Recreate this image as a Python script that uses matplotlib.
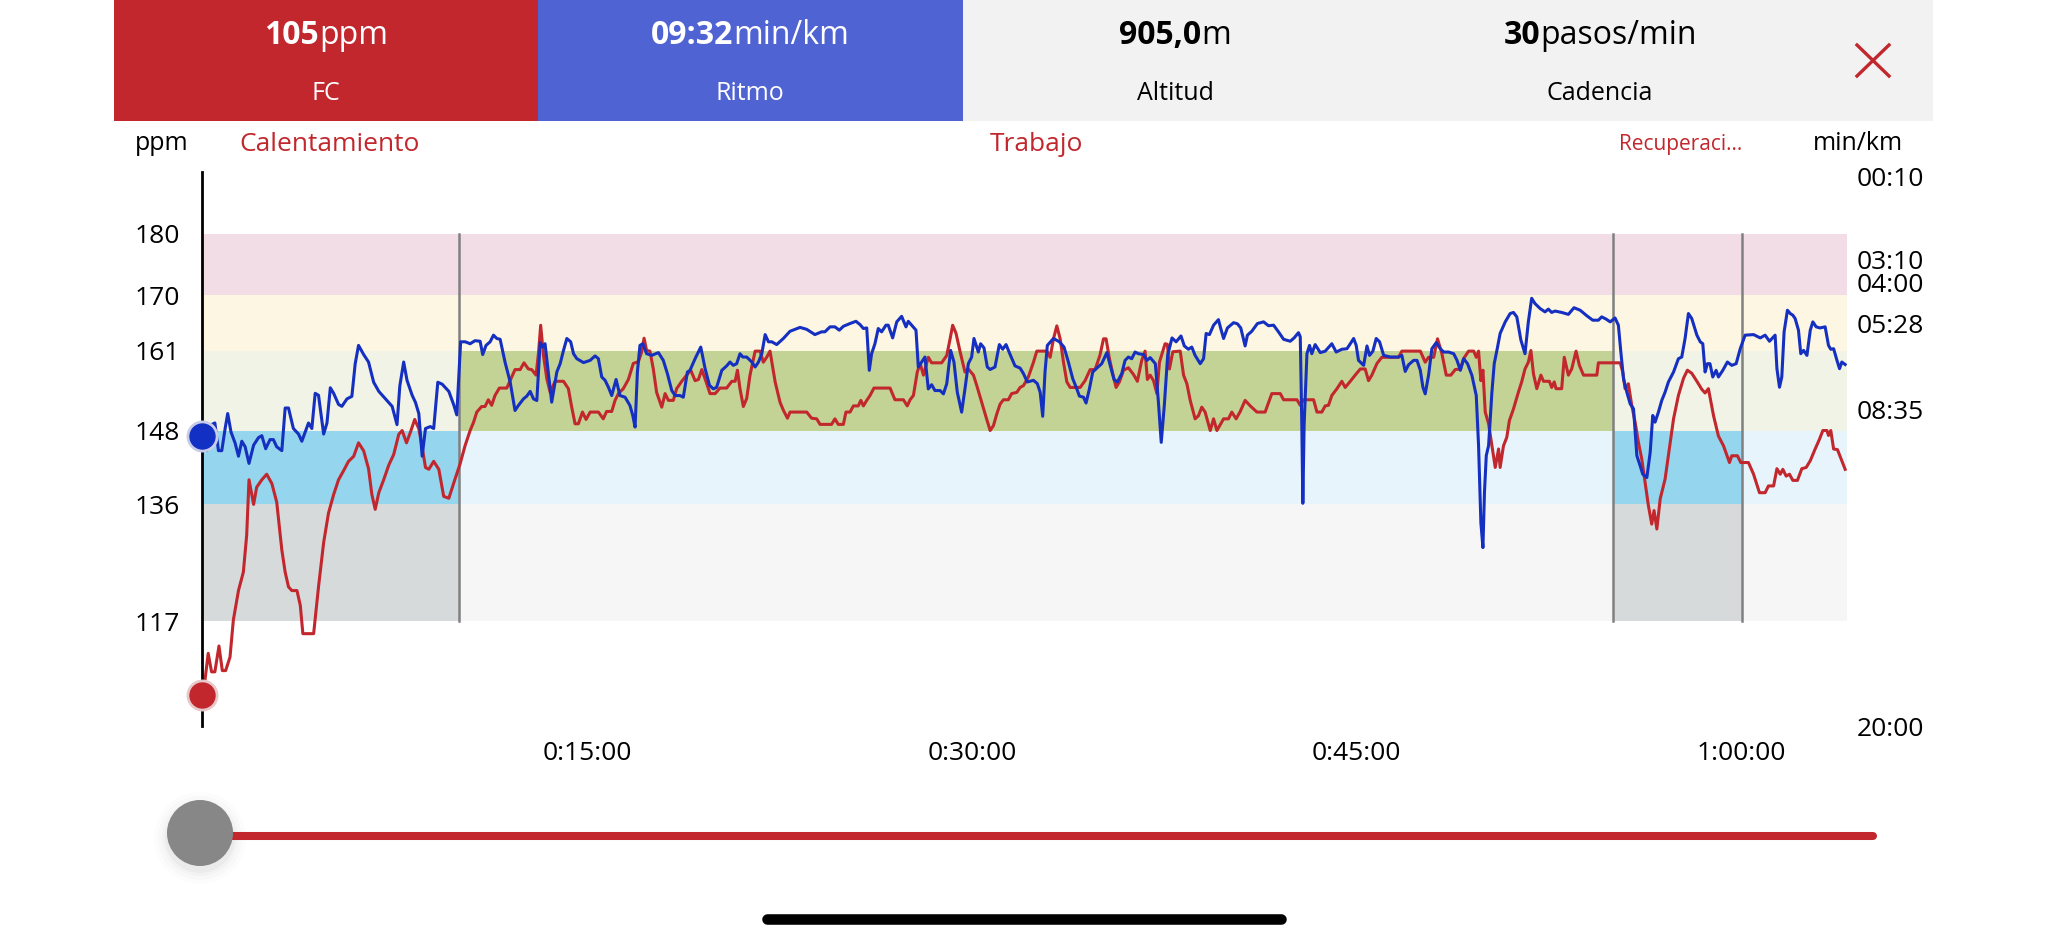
import numpy as np
import matplotlib
matplotlib.use('Agg')
import matplotlib.pyplot as plt
from matplotlib.patches import Rectangle, Circle

plt.rcParams['font.family'] = ['Open Sans', 'DejaVu Sans']

# ---- data ----
# heart rate: (minute, ppm)
hr_samples = [
    (0, 105), (0.1, 107.3), (0.23, 111.8), (0.36, 108.8), (0.49, 108.8), (0.65, 113), (0.78, 109), (0.91, 109),
    (1.08, 111.2), (1.21, 117.2), (1.41, 122), (1.6, 125), (1.73, 131), (1.82, 140), (2.0, 136), (2.12, 138.8),
    (2.32, 140), (2.51, 140.9), (2.71, 139.4), (2.9, 136.4), (3.1, 128.6), (3.23, 125), (3.36, 122.6), (3.49, 122),
    (3.69, 122), (3.82, 119.6), (3.92, 115), (4.08, 115), (4.34, 115), (4.53, 122.6), (4.73, 129.8), (4.92, 134.6),
    (5.12, 137.6), (5.31, 140), (5.51, 141.5), (5.7, 143), (5.9, 143.8), (6.09, 146), (6.29, 144.7), (6.48, 141.8),
    (6.61, 137.6), (6.74, 135.2), (6.88, 137.9), (7.07, 140), (7.27, 142.4), (7.46, 144.1), (7.66, 147.4), (7.79, 148),
    (7.96, 146), (8.11, 147.7), (8.28, 149.8), (8.44, 148.3), (8.57, 145.3), (8.7, 142), (8.83, 141.7), (9.02, 143),
    (9.22, 141.7), (9.41, 137.3), (9.61, 137), (9.85, 140.1), (10.05, 142.6), (10.24, 145.5), (10.44, 148),
    (10.57, 149.3), (10.7, 151), (10.89, 151.9), (11.02, 151.9), (11.15, 153), (11.28, 152.1), (11.41, 153.7),
    (11.58, 154.9), (11.87, 154.9), (12.06, 156.7), (12.19, 157.9), (12.39, 157.9), (12.54, 159), (12.71, 158),
    (12.84, 157.9), (13.01, 157), (13.11, 160.8), (13.19, 165.1), (13.3, 160.2), (13.43, 156.4), (13.56, 154.2),
    (13.75, 156), (14.08, 156), (14.27, 154.8), (14.4, 151.8), (14.53, 149.1), (14.66, 149.1), (14.82, 151),
    (14.96, 149.8), (15.12, 151), (15.44, 151), (15.63, 149.9), (15.76, 151.1), (15.96, 151.1), (16.09, 152.9),
    (16.22, 154), (16.41, 154.8), (16.61, 156.3), (16.8, 158.9), (17.0, 159.2), (17.13, 160.8), (17.22, 163),
    (17.32, 161), (17.45, 160.9), (17.58, 158), (17.71, 154.2), (17.91, 151.8), (18.04, 154), (18.17, 152.9),
    (18.36, 152.9), (18.49, 154.8), (18.69, 156), (18.88, 157), (19.04, 157.8), (19.21, 156.1), (19.34, 156.3),
    (19.47, 157.9), (19.64, 155.9), (19.79, 154), (19.99, 154), (20.18, 154.9), (20.44, 154.9), (20.64, 156),
    (20.77, 156), (20.86, 157.8), (20.96, 154.8), (21.09, 151.9), (21.22, 153.2), (21.35, 157), (21.55, 160.9),
    (21.74, 160.9), (21.87, 159.1), (22.0, 159.9), (22.13, 160.9), (22.33, 155.9), (22.52, 152.6), (22.65, 151.3),
    (22.81, 150), (22.91, 151), (23.3, 151), (23.56, 151), (23.75, 150), (23.95, 149.9), (24.08, 149), (24.53, 149),
    (24.66, 149.9), (24.79, 149), (24.99, 149), (25.09, 151), (25.25, 151), (25.38, 152), (25.57, 152),
    (25.67, 152.9), (25.77, 152), (25.9, 152.9), (26.03, 153.7), (26.18, 154.9), (26.81, 154.9), (27.0, 153),
    (27.33, 153), (27.48, 152), (27.59, 153), (27.72, 153.7), (27.87, 157.5), (27.98, 158.9), (28.11, 157),
    (28.3, 159.9), (28.43, 159), (28.82, 159), (29.02, 160.2), (29.15, 162.9), (29.25, 165.1), (29.38, 163.8),
    (29.54, 160.8), (29.73, 157.5), (29.86, 158), (30.06, 157), (30.19, 155.3), (30.38, 152.6), (30.55, 150.2),
    (30.71, 148), (30.84, 148.8), (30.97, 150.7), (31.1, 152.3), (31.23, 153), (31.42, 153), (31.55, 154),
    (31.75, 154.2), (31.88, 155), (32.01, 155.3), (32.2, 156.7), (32.4, 159.1), (32.53, 160.9), (32.92, 160.9),
    (33.05, 159.9), (33.18, 162.9), (33.31, 165), (33.44, 162.9), (33.57, 159.1), (33.7, 155.9), (33.83, 155),
    (34.22, 155), (34.41, 156.1), (34.61, 157.9), (34.8, 157.9), (34.99, 160.2), (35.13, 162.9), (35.23, 162.9),
    (35.36, 159.7), (35.52, 156.7), (35.62, 155), (35.75, 155.9), (35.91, 157.8), (36.1, 158.2), (36.3, 157.1),
    (36.45, 156), (36.62, 159.4), (36.75, 160.9), (36.84, 156.3), (36.95, 157), (37.08, 156.1), (37.21, 154),
    (37.31, 159.1), (37.53, 162.1), (37.62, 162), (37.7, 158), (37.83, 160.8), (38.12, 160.9), (38.25, 157),
    (38.38, 155.6), (38.51, 152.9), (38.7, 149.9), (38.83, 150.4), (38.96, 151.8), (39.09, 151), (39.29, 148),
    (39.42, 149.9), (39.55, 148), (39.81, 149.9), (40.0, 149.9), (40.13, 151), (40.3, 149.9), (40.46, 151.1),
    (40.65, 152.9), (40.85, 152), (41.11, 151), (41.43, 151), (41.69, 154), (42.02, 154), (42.15, 153),
    (42.67, 153), (42.8, 152.1), (42.93, 153), (43.32, 153), (43.45, 151), (43.64, 151), (43.77, 152),
    (43.9, 152.1), (44.03, 153.7), (44.23, 154.8), (44.42, 156), (44.55, 155), (44.75, 156), (44.94, 157),
    (45.14, 158), (45.33, 158), (45.46, 156.1), (45.59, 157), (45.79, 158.9), (45.98, 159.9), (46.63, 159.9),
    (46.76, 160.9), (47.48, 160.9), (47.67, 159.1), (47.8, 159.9), (48.0, 159.9), (48.15, 162.9), (48.32, 160.5),
    (48.49, 157), (48.67, 157), (48.84, 157.9), (49.04, 158), (49.17, 159.7), (49.36, 160.9), (49.56, 160.9),
    (49.66, 159.9), (49.75, 160.9), (49.84, 156.1), (49.92, 157.8), (50.01, 151), (50.14, 149.1), (50.27, 145.5),
    (50.4, 142), (50.53, 145), (50.59, 142), (50.72, 145.5), (50.85, 146.9), (50.95, 149.6), (51.11, 151.5),
    (51.3, 154.2), (51.43, 155.9), (51.56, 158), (51.69, 159.1), (51.79, 161), (51.89, 157.2), (52.02, 154.8),
    (52.18, 157), (52.28, 156), (52.51, 156), (52.6, 155), (52.7, 155.9), (52.77, 154.8), (52.99, 154.8),
    (53.09, 159.9), (53.25, 157), (53.38, 158), (53.55, 160.9), (53.68, 158.6), (53.84, 157), (54.36, 157),
    (54.42, 159), (55.27, 159), (55.37, 157.5), (55.46, 154.8), (55.59, 155.6), (55.72, 152.1), (55.85, 149.4),
    (55.98, 146.1), (56.11, 143.4), (56.24, 139.6), (56.37, 135.8), (56.5, 132.8), (56.59, 135), (56.7, 132),
    (56.83, 136.9), (57.02, 140.1), (57.22, 146.1), (57.35, 149.9), (57.54, 153.7), (57.74, 156.5), (57.89, 157.8),
    (58.06, 157.3), (58.26, 156), (58.45, 154.7), (58.58, 154.1), (58.71, 154.8), (58.91, 150.4), (59.1, 147.1),
    (59.3, 145.5), (59.53, 142.8), (59.62, 143.9), (59.84, 143.9), (59.97, 142.8), (60.27, 142.8), (60.47, 140.9),
    (60.7, 137.9), (60.92, 137.9), (61.05, 139), (61.25, 139), (61.38, 141.8), (61.51, 140.9), (61.61, 141.7),
    (61.74, 140.6), (61.87, 140.9), (62.0, 139.9), (62.18, 139.9), (62.35, 141.8), (62.52, 142), (62.68, 143.1),
    (62.87, 145), (63.04, 146.6), (63.17, 148), (63.33, 148), (63.39, 147.2), (63.48, 148), (63.59, 145),
    (63.74, 144.9), (64.04, 141.7),
]

# pace: (minute, min/km)
pace_samples = [
    (0, 9.53), (0.17, 10.06), (0.23, 9.59), (0.36, 9.12), (0.49, 9.06), (0.63, 10.06), (0.76, 10.06), (0.89, 9.26),
    (0.99, 8.72), (1.12, 9.39), (1.28, 9.79), (1.41, 10.26), (1.54, 9.72), (1.67, 9.92), (1.82, 10.52), (2.0, 9.86),
    (2.19, 9.59), (2.32, 9.52), (2.47, 9.99), (2.64, 9.66), (2.77, 9.66), (2.9, 9.92), (3.1, 10.06), (3.23, 8.52),
    (3.36, 8.52), (3.55, 9.26), (3.75, 9.46), (3.88, 9.72), (4.01, 9.39), (4.14, 9.06), (4.27, 9.26), (4.4, 7.99),
    (4.53, 8.06), (4.73, 9.46), (4.86, 9.06), (4.99, 7.79), (5.12, 7.99), (5.31, 8.39), (5.44, 8.46), (5.64, 8.19),
    (5.83, 8.1), (5.96, 6.92), (6.09, 6.26), (6.29, 6.59), (6.48, 6.86), (6.68, 7.59), (6.88, 7.92), (7.14, 8.19),
    (7.4, 8.46), (7.59, 9.12), (7.7, 7.72), (7.85, 6.86), (7.98, 7.52), (8.18, 8.06), (8.31, 8.32), (8.44, 8.72),
    (8.57, 10.26), (8.7, 9.26), (8.89, 9.19), (9.02, 9.26), (9.18, 7.59), (9.35, 7.66), (9.61, 7.92), (9.81, 8.43),
    (9.92, 8.77), (10.07, 6.13), (10.25, 6.13), (10.44, 6.2), (10.63, 6.09), (10.83, 6.11), (10.93, 6.59),
    (11.06, 6.26), (11.22, 6.13), (11.35, 5.89), (11.48, 6.01), (11.61, 6.04), (11.8, 6.86), (12.0, 7.58),
    (12.19, 8.61), (12.32, 8.43), (12.52, 8.19), (12.65, 8.09), (12.78, 7.92), (12.91, 8.19), (13.04, 8.25),
    (13.17, 6.16), (13.27, 6.32), (13.36, 6.2), (13.45, 6.92), (13.62, 8.31), (13.82, 7.22), (13.95, 6.92),
    (14.08, 6.44), (14.21, 6.01), (14.36, 6.13), (14.47, 6.56), (14.6, 6.74), (14.86, 6.88), (15.12, 6.8),
    (15.31, 6.64), (15.44, 6.74), (15.57, 7.4), (15.7, 7.52), (15.83, 7.77), (15.96, 8.07), (16.13, 7.49),
    (16.28, 8.07), (16.48, 8.13), (16.67, 8.43), (16.78, 8.79), (16.87, 9.21), (16.96, 7.22), (17.06, 6.26),
    (17.17, 6.2), (17.32, 6.56), (17.52, 6.62), (17.78, 6.52), (17.97, 6.8), (18.13, 7.28), (18.3, 7.89),
    (18.43, 8.07), (18.62, 8.07), (18.75, 8.13), (18.91, 7.22), (19.01, 7.16), (19.21, 6.74), (19.43, 6.32),
    (19.6, 7.1), (19.77, 7.7), (19.92, 7.83), (20.05, 7.77), (20.25, 7.16), (20.44, 7.0), (20.57, 6.86),
    (20.7, 6.98), (20.83, 6.92), (20.96, 6.56), (21.07, 6.68), (21.22, 6.68), (21.42, 6.86), (21.55, 7.04),
    (21.68, 6.86), (21.81, 6.56), (21.94, 5.87), (22.07, 6.13), (22.2, 6.13), (22.39, 6.23), (22.65, 6.01),
    (22.91, 5.75), (23.3, 5.61), (23.56, 5.68), (23.88, 5.87), (24.14, 5.77), (24.27, 5.77), (24.47, 5.59),
    (24.66, 5.59), (24.83, 5.71), (24.99, 5.57), (25.25, 5.47), (25.48, 5.39), (25.64, 5.51), (25.77, 5.65),
    (25.9, 5.63), (26.0, 7.16), (26.09, 6.56), (26.22, 6.2), (26.35, 5.65), (26.48, 5.77), (26.65, 5.53),
    (26.74, 5.53), (26.91, 5.99), (27.07, 5.41), (27.26, 5.21), (27.43, 5.59), (27.52, 5.39), (27.65, 5.53),
    (27.82, 5.71), (27.91, 7.04), (28.04, 6.86), (28.17, 6.68), (28.3, 7.83), (28.43, 7.68), (28.56, 7.89),
    (28.76, 7.89), (28.89, 8.01), (29.02, 7.64), (29.17, 6.44), (29.3, 6.86), (29.43, 7.95), (29.6, 8.67),
    (29.73, 7.83), (29.86, 6.92), (29.99, 6.68), (30.08, 6.01), (30.25, 6.5), (30.34, 6.2), (30.47, 6.35),
    (30.6, 7.04), (30.71, 7.13), (30.9, 7.04), (31.07, 6.23), (31.2, 6.4), (31.33, 6.23), (31.49, 6.59),
    (31.68, 7.0), (31.88, 7.08), (32.01, 7.28), (32.16, 7.58), (32.4, 7.52), (32.55, 7.64), (32.66, 7.95),
    (32.76, 8.82), (32.85, 7.22), (32.94, 6.26), (33.18, 6.01), (33.41, 6.13), (33.59, 6.32), (33.76, 6.86),
    (33.93, 7.46), (34.09, 7.83), (34.19, 8.09), (34.35, 8.13), (34.45, 8.34), (34.58, 7.83), (34.71, 7.22),
    (34.87, 7.08), (35.06, 6.92), (35.26, 6.52), (35.39, 6.98), (35.54, 7.49), (35.67, 7.58), (35.84, 7.28),
    (35.97, 6.8), (36.1, 6.68), (36.23, 6.74), (36.36, 6.5), (36.49, 6.56), (36.69, 6.59), (36.82, 6.8),
    (36.95, 6.7), (37.15, 6.92), (37.27, 8.31), (37.38, 9.76), (37.5, 8.43), (37.63, 6.62), (37.8, 5.99),
    (37.96, 6.13), (38.15, 5.92), (38.28, 6.28), (38.44, 6.4), (38.57, 6.32), (38.7, 6.62), (38.9, 6.92),
    (39.03, 6.74), (39.13, 5.83), (39.26, 5.87), (39.42, 5.53), (39.61, 5.33), (39.7, 5.65), (39.81, 6.01),
    (39.96, 5.63), (40.2, 5.44), (40.35, 5.48), (40.48, 5.63), (40.65, 6.28), (40.74, 5.89), (40.91, 5.75),
    (41.13, 5.47), (41.37, 5.41), (41.56, 5.55), (41.76, 5.53), (41.95, 5.77), (42.15, 6.04), (42.41, 6.11),
    (42.56, 5.99), (42.73, 5.8), (42.8, 5.95), (42.86, 9.15), (42.9, 11.96), (42.95, 9.15), (43.06, 6.56),
    (43.16, 6.26), (43.25, 6.56), (43.38, 6.23), (43.58, 6.52), (43.77, 6.47), (44.03, 6.2), (44.2, 6.5),
    (44.42, 6.4), (44.62, 6.38), (44.75, 6.2), (44.88, 6.01), (44.98, 6.26), (45.07, 6.8), (45.27, 6.98),
    (45.4, 6.28), (45.5, 6.62), (45.63, 6.47), (45.76, 6.01), (45.89, 6.13), (46.05, 6.62), (46.31, 6.68),
    (46.63, 6.68), (46.76, 6.62), (46.89, 7.2), (47.02, 6.96), (47.22, 6.8), (47.35, 6.8), (47.48, 7.16),
    (47.58, 7.77), (47.67, 8.01), (47.8, 7.34), (47.93, 6.38), (48.1, 6.16), (48.26, 6.38), (48.39, 6.5),
    (48.58, 6.5), (48.78, 6.56), (48.91, 6.8), (49.04, 7.16), (49.17, 6.74), (49.32, 6.92), (49.49, 7.34),
    (49.66, 8.07), (49.75, 9.88), (49.84, 12.66), (49.92, 13.56), (49.98, 11.56), (50.05, 10.24), (50.14, 9.88),
    (50.27, 7.95), (50.36, 6.92), (50.49, 6.32), (50.59, 5.83), (50.79, 5.41), (50.98, 5.11), (51.11, 5.07),
    (51.24, 5.23), (51.4, 6.07), (51.56, 6.56), (51.69, 5.41), (51.82, 4.56), (51.95, 4.75), (52.15, 4.93),
    (52.34, 5.05), (52.47, 4.95), (52.6, 5.07), (52.73, 5.02), (52.99, 5.07), (53.25, 5.14), (53.47, 4.9),
    (53.71, 4.99), (53.97, 5.19), (54.2, 5.35), (54.42, 5.35), (54.55, 5.23), (54.72, 5.31), (54.88, 5.41),
    (55.07, 5.27), (55.2, 5.53), (55.29, 6.44), (55.4, 7.46), (55.53, 7.95), (55.66, 8.37), (55.79, 8.55),
    (55.92, 10.24), (56.05, 10.61), (56.15, 10.91), (56.31, 11.03), (56.44, 10.12), (56.54, 8.79), (56.63, 9.03),
    (56.76, 8.67), (56.89, 8.25), (57.02, 7.95), (57.15, 7.58), (57.35, 7.22), (57.54, 6.74), (57.67, 6.68),
    (57.8, 6.01), (57.93, 5.11), (58.06, 5.29), (58.26, 5.89), (58.39, 6.13), (58.49, 6.2), (58.58, 7.22),
    (58.67, 6.92), (58.77, 6.92), (58.88, 7.4), (59.01, 7.16), (59.1, 7.4), (59.27, 7.16), (59.45, 6.86),
    (59.62, 6.98), (59.79, 6.92), (59.95, 6.38), (60.14, 5.89), (60.47, 5.87), (60.73, 5.99), (60.92, 5.89),
    (61.09, 6.11), (61.31, 5.89), (61.38, 7.1), (61.48, 7.77), (61.57, 7.4), (61.66, 5.77), (61.79, 4.99),
    (61.9, 5.11), (62.0, 5.17), (62.09, 5.29), (62.22, 5.71), (62.31, 6.56), (62.42, 6.44), (62.55, 6.62),
    (62.68, 5.71), (62.78, 5.41), (62.91, 5.59), (63.06, 5.63), (63.26, 5.59), (63.39, 6.26), (63.48, 6.4),
    (63.59, 6.38), (63.72, 6.8), (63.82, 7.1), (63.91, 6.86), (64.04, 6.95),
]

zone_edges = [117, 136, 148, 161, 170, 180]
zone_colors = ['#f6f6f6', '#e7f4fb', '#f0f3e6', '#fdf6e3', '#f2dde6']
phases = [  # (start min, end min, name)
    (0, 10, 'Calentamiento'),
    (10, 55, 'Trabajo'),
    (55, 60, 'Recuperaci...'),
]
# highlighted zones per phase: (start, end, low, high, colour)
phase_zones = [
    (0, 10, 136, 148, '#95d5ee'), (0, 10, 117, 136, '#d7dadb'),
    (10, 55, 148, 161, '#c3d395'),
    (55, 60, 136, 148, '#95d5ee'), (55, 60, 117, 136, '#d7dadb'),
]
hr_ticks = [180, 170, 161, 148, 136, 117]
pace_ticks = [10 / 60, 3 + 10 / 60, 4, 5 + 28 / 60, 8 + 35 / 60, 20]
pace_labels = ['00:10', '03:10', '04:00', '05:28', '08:35', '20:00']
time_ticks = [15, 30, 45, 60]
time_labels = ['0:15:00', '0:30:00', '0:45:00', '1:00:00']
end_minute = 64.1

header = [  # (value, unit, label)
    ('105', 'ppm', 'FC'),
    ('09:32', 'min/km', 'Ritmo'),
    ('905,0', 'm', 'Altitud'),
    ('30', 'pasos/min', 'Cadencia'),
]

RED = '#c1272d'
BLUE_LINE = '#1530c0'
BLUE_HEAD = '#4f63d3'

hr_t, hr_v = np.array(hr_samples).T
pace_t, pace_v = np.array(pace_samples).T

W, H = 2048, 946
fig = plt.figure(figsize=(W / 100, H / 100), dpi=100)

# overlay in pixel units for the app chrome
ov = fig.add_axes([0, 0, 1, 1], zorder=0)
ov.set_xlim(0, W)
ov.set_ylim(H, 0)
ov.axis('off')

# header boxes
ov.add_patch(Rectangle((114, 0), 424, 121.5, color=RED, lw=0))
ov.add_patch(Rectangle((538, 0), 425, 121.5, color=BLUE_HEAD, lw=0))
ov.add_patch(Rectangle((963, 0), 970, 121.5, color='#f2f2f2', lw=0))

renderer = fig.canvas.get_renderer()


def two_part(cx, cy, bold, regular, color, size):
    t1 = ov.text(0, cy, bold, fontweight='bold', color=color, fontsize=size, va='center', ha='left')
    t2 = ov.text(0, cy, regular, color=color, fontsize=size, va='center', ha='left')
    w1 = t1.get_window_extent(renderer).width
    w2 = t2.get_window_extent(renderer).width
    x0 = cx - (w1 + w2) / 2
    t1.set_x(x0)
    t2.set_x(x0 + w1)


centers = [326, 750, 1175, 1600]
for (val, unit, lab), cx in zip(header, centers):
    col = 'white' if cx < 963 else 'black'
    two_part(cx, 35, val, unit, col, 23)
    ov.text(cx, 94, lab, color=col, fontsize=18, ha='center', va='center')

# close cross
ov.plot([1857, 1889], [45, 76], color=RED, lw=2.4)
ov.plot([1857, 1889], [76, 45], color=RED, lw=2.4)

# axis titles
ov.text(162, 144, 'ppm', fontsize=18, ha='center', va='center')
ov.text(1858, 143, 'min/km', fontsize=18, ha='center', va='center')

# slider and home bar
for r, a in [(46, 0.012), (42, 0.015), (38, 0.02), (35, 0.03)]:
    ov.add_patch(Circle((200, 838), r, color='black', alpha=a, lw=0))
ov.plot([200, 1873], [836, 836], color=RED, lw=5.8, solid_capstyle='round')
ov.add_patch(Circle((200, 833), 33, color='#878787', lw=0, zorder=5))
ov.plot([767, 1281], [919, 919], color='black', lw=7.6, solid_capstyle='round')

# ---- main chart ----
ax = fig.add_axes([202.3 / W, 1 - 726 / H, (1846.7 - 202.3) / W, (726 - 172) / H], zorder=2)
ax.patch.set_visible(False)
ax.set_xlim(0, end_minute)
ax.set_ylim(100, 190)

for lo, hi, c in zip(zone_edges[:-1], zone_edges[1:], zone_colors):
    ax.axhspan(lo, hi, color=c, lw=0, zorder=0)
for x0, x1, lo, hi, c in phase_zones:
    ax.fill_between([x0, x1], lo, hi, color=c, lw=0, zorder=1)
for x in [10, 55, 60]:
    ax.plot([x, x], [117, 180], color='#808080', lw=1.8, zorder=2)

# phase names, placed in axes-fraction height above the plot
label_y = 1 + 28 / 554
for x0, x1, name in phases:
    if name == 'Calentamiento':
        ax.text(1.43, label_y, name, transform=ax.get_xaxis_transform(), color=RED, fontsize=19,
                ha='left', va='center')
    elif name == 'Trabajo':
        ax.text((1036 - 202.3) / 25.65, label_y, name, transform=ax.get_xaxis_transform(), color=RED,
                fontsize=19, ha='center', va='center')
    else:
        ax.text((1680 - 202.3) / 25.65, label_y, name, transform=ax.get_xaxis_transform(), color=RED,
                fontsize=15, ha='center', va='center')

ax.plot(hr_t, hr_v, color=RED, lw=2.2, zorder=3)

for s in ['top', 'right', 'bottom']:
    ax.spines[s].set_visible(False)
ax.spines['left'].set_color('black')
ax.spines['left'].set_linewidth(2)
ax.spines['left'].set_zorder(4)
ax.set_yticks(hr_ticks)
ax.set_xticks(time_ticks)
ax.set_xticklabels(time_labels)
ax.tick_params(axis='y', length=0, pad=16, labelsize=19)
ax.tick_params(axis='x', length=0, pad=11, labelsize=19)

ax2 = ax.twinx()
ax2.set_ylim(20, 0)
ax2.plot(pace_t, pace_v, color=BLUE_LINE, lw=2.2, zorder=3)
for s in ax2.spines.values():
    s.set_visible(False)
ax2.set_yticks(pace_ticks)
ax2.set_yticklabels(pace_labels)
ax2.tick_params(axis='y', length=0, pad=7, labelsize=19)

# current-position markers
ax.plot([0], [hr_v[0]], 'o', ms=22, color='#e8c9cb', clip_on=False, zorder=5)
ax.plot([0], [hr_v[0]], 'o', ms=18, color=RED, clip_on=False, zorder=6)
ax2.plot([0], [pace_v[0]], 'o', ms=22, color='#c9cde8', clip_on=False, zorder=5)
ax2.plot([0], [pace_v[0]], 'o', ms=18, color='#1230c4', clip_on=False, zorder=6)

fig.savefig('out.png', dpi=100, facecolor='white')
